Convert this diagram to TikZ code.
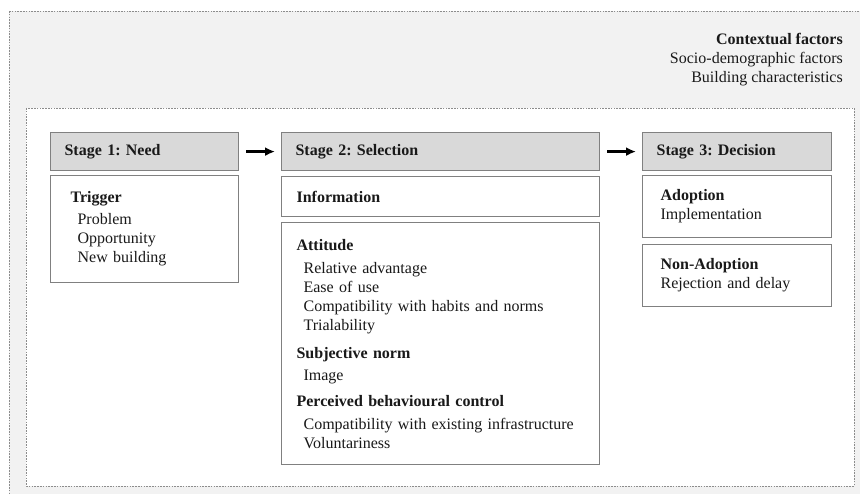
\documentclass[tikz,border=0pt]{standalone}
\usepackage{fontspec}
\setmainfont{Liberation Serif}
\frenchspacing
\colorlet{ContextFill}{gray!10}
\colorlet{StageFill}{gray!30}
\colorlet{BoxLine}{black!50}
\usetikzlibrary{arrows.meta}
\newcommand{\factor}[1]{\hspace*{7pt}#1}

\begin{document}
\begin{tikzpicture}[x=1pt, y=-1pt,
    font=\fontsize{16}{19}\selectfont, text=black!90,
    frame/.style={draw=black!45, line width=0.8pt, dash pattern=on 1.6pt off 1.2pt},
    stagebox/.style={draw=BoxLine, line width=1.2pt, fill=StageFill, anchor=north west,
        minimum height=38pt, inner xsep=14pt, inner ysep=0pt, align=left,
        font=\fontsize{16}{19}\selectfont\bfseries},
    itembox/.style={draw=BoxLine, line width=1.2pt, fill=white, anchor=north west,
        inner ysep=0pt, align=left},
    flow/.style={-{Latex[length=10pt,width=9pt]}, line width=2.2pt,
        shorten <=7pt, shorten >=6pt}]

\useasboundingbox (0,0) rectangle (860,494);
\begin{scope}
    \clip (0,0) rectangle (860,494);
    \draw[frame, fill=ContextFill] (9,11) rectangle (880,510);
\end{scope}
\draw[frame, fill=white] (26,108) rectangle (854,486);

\node[anchor=north east, align=right, inner sep=0pt] (context) at (843,33)
    {\textbf{Contextual factors}\\ Socio-demographic factors\\ Building characteristics};

% stage headers
\node[stagebox, text width=160pt] (need) at (50,132) {Stage 1: Need};
\node[stagebox, text width=290pt] (selection) at (281,132) {Stage 2: Selection};
\node[stagebox, text width=161pt] (decision) at (642,132) {Stage 3: Decision};

\draw[flow] (need) -- (selection);
\draw[flow] (selection) -- (decision);

% stage 1
\node[itembox, inner xsep=20pt, text width=148pt, minimum height=107pt] (trigger) at (50,175)
    {\textbf{Trigger}\\[3pt] \factor{Problem}\\ \factor{Opportunity}\\ \factor{New building}};

% stage 2
\node[itembox, inner xsep=15pt, text width=288pt, minimum height=40pt] (information) at (281,176)
    {\textbf{Information}};
\node[itembox, inner xsep=15pt, text width=288pt, minimum height=242pt] (attitude) at (281,222)
    {\textbf{Attitude}\\[4pt]
     \factor{Relative advantage}\\ \factor{Ease of use}\\
     \factor{Compatibility with habits and norms}\\ \factor{Trialability}\\[9pt]
     \textbf{Subjective norm}\\[3pt] \factor{Image}\\[7pt]
     \textbf{Perceived behavioural control}\\[4pt]
     \factor{Compatibility with existing infrastructure}\\ \factor{Voluntariness}};

% stage 3
\node[itembox, inner xsep=18pt, text width=153pt, minimum height=62pt] (adoption) at (642,175)
    {\textbf{Adoption}\\ Implementation};
\node[itembox, inner xsep=18pt, text width=153pt, minimum height=62pt] (nonadoption) at (642,244)
    {\textbf{Non-Adoption}\\ Rejection and delay};

\end{tikzpicture}
\end{document}
